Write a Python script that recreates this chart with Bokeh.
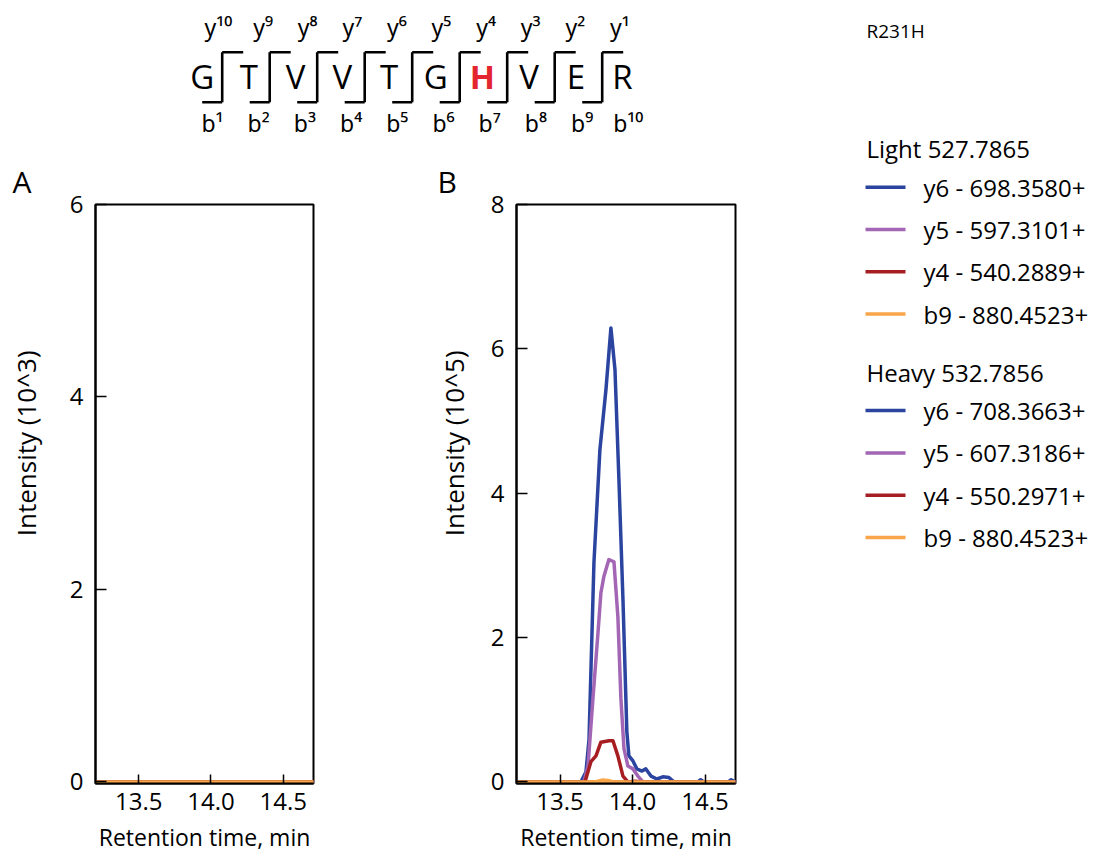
from bokeh.plotting import figure
from bokeh.models import Range1d, FixedTicker, PrintfTickFormatter, Title
from bokeh.layouts import column, row
from bokeh.embed import file_html
from bokeh.resources import INLINE
from bokeh.core.properties import value

FONT = "Open Sans"
SUPFONT = "Noto Sans"

# ---------------- data ----------------
residues = ["G", "T", "V", "V", "T", "G", "H", "V", "E", "R"]
mutated_index = 6
y_ions = ["y¹⁰", "y⁹", "y⁸", "y⁷", "y⁶", "y⁵", "y⁴", "y³", "y²", "y¹"]
b_ions = ["b¹", "b²", "b³", "b⁴", "b⁵", "b⁶", "b⁷", "b⁸", "b⁹", "b¹⁰"]
variant = "R231H"

light_title = "Light 527.7865"
heavy_title = "Heavy 532.7856"
light_labels = ["y6 - 698.3580+", "y5 - 597.3101+", "y4 - 540.2889+", "b9 - 880.4523+"]
heavy_labels = ["y6 - 708.3663+", "y5 - 607.3186+", "y4 - 550.2971+", "b9 - 880.4523+"]
series_colors = ["#2B44A0", "#A366B5", "#A61E22", "#F9A54A"]

time_range = (13.2, 14.71)
x_ticks = [13.5, 14.0, 14.5]
a_y_ticks = [0, 2, 4, 6]
b_y_ticks = [0, 2, 4, 6, 8]

# Panel A (Intensity x10^3): all transitions flat at zero
a_time = [13.2, 14.71]
a_light = [[0, 0], [0, 0], [0, 0], [0, 0]]
a_heavy = [[0, 0], [0, 0], [0, 0], [0, 0]]

# Panel B (Intensity x10^5)
b_light_y6_t = [13.2, 13.645, 13.679, 13.700, 13.734, 13.775, 13.817, 13.851, 13.879, 13.906,
                13.934, 13.961, 13.975, 14.003, 14.030, 14.065, 14.092, 14.127, 14.168, 14.209,
                14.251, 14.285, 14.45, 14.47, 14.49, 14.66, 14.68, 14.71]
b_light_y6_v = [0, 0, 0.14, 0.59, 3.04, 4.6, 5.44, 6.29, 5.71, 4.2,
                2.53, 0.69, 0.36, 0.29, 0.18, 0.15, 0.18, 0.08, 0.04, 0.07,
                0.06, 0, 0, 0.03, 0, 0, 0.03, 0]
b_light_y5_t = [13.2, 13.665, 13.693, 13.727, 13.762, 13.782, 13.803, 13.837, 13.872, 13.899,
                13.920, 13.941, 13.968, 14.003, 14.037, 14.072, 14.71]
b_light_y5_v = [0, 0, 0.22, 1.15, 2.07, 2.62, 2.85, 3.08, 3.05, 2.29,
                1.15, 0.46, 0.22, 0.18, 0.08, 0, 0]
b_light_y4_t = [13.2, 13.672, 13.713, 13.748, 13.782, 13.837, 13.865, 13.899, 13.934, 13.968,
                14.02, 14.06, 14.71]
b_light_y4_v = [0, 0, 0.28, 0.36, 0.55, 0.57, 0.57, 0.36, 0.08, 0, 0.01, 0, 0]
b_light_b9_t = [13.2, 13.74, 13.79, 13.83, 13.87, 14.71]
b_light_b9_v = [0, 0, 0.025, 0.02, 0, 0]
b_heavy_t = [13.2, 14.71]
b_heavy_v = [[0, 0], [0, 0], [0, 0], [0, 0]]

HEADER_H = 150
NBSP = "\u00a0"


# ---------------- panels ----------------
def make_panel(letter, letter_offset, ylabel, y_end, y_ticks, heavy, light, left, fw, right, lab_standoff):
    p = figure(frame_width=fw, frame_height=579,
               min_border_left=left, min_border_right=right,
               min_border_top=204 - HEADER_H, min_border_bottom=72,
               x_range=Range1d(*time_range),
               y_range=Range1d(-y_end * 0.0028, y_end),
               output_backend="svg", toolbar_location=None)
    p.frame_align = False
    p.grid.visible = False
    p.outline_line_color = "black"
    p.outline_line_width = 2
    p.background_fill_color = "white"
    p.border_fill_color = "white"

    p.title = Title(text=letter, align="left", offset=letter_offset,
                    text_font=FONT, text_font_size="30px", text_font_style="normal",
                    text_color="black", standoff=6)

    xa = p.xaxis[0]
    xa.ticker = FixedTicker(ticks=x_ticks)
    xa.formatter = PrintfTickFormatter(format="%.1f")
    xa.major_tick_in = 9
    xa.major_tick_out = 0
    xa.minor_tick_line_color = None
    xa.major_tick_line_width = 1.5
    xa.major_tick_line_color = "black"
    xa.axis_line_width = 2
    xa.major_label_text_font = FONT
    xa.major_label_text_font_size = "24px"
    xa.major_label_text_color = "black"
    xa.major_label_standoff = 9
    xa.axis_label = "Retention time, min"
    xa.axis_label_text_font = FONT
    xa.axis_label_text_font_size = "23px"
    xa.axis_label_text_font_style = "normal"
    xa.axis_label_text_color = "black"
    xa.axis_label_standoff = 8

    ya = p.yaxis[0]
    ya.ticker = FixedTicker(ticks=y_ticks)
    ya.major_tick_in = 11
    ya.major_tick_out = 0
    ya.minor_tick_line_color = None
    ya.major_tick_line_width = 1.5
    ya.major_tick_line_color = "black"
    ya.axis_line_width = 2
    ya.major_label_text_font = FONT
    ya.major_label_text_font_size = "24px"
    ya.major_label_text_color = "black"
    ya.major_label_standoff = 12
    ya.axis_label = NBSP * 15 + ylabel
    ya.axis_label_text_font = FONT
    ya.axis_label_text_font_size = "26px"
    ya.axis_label_text_font_style = "normal"
    ya.axis_label_text_color = "black"
    ya.axis_label_standoff = lab_standoff

    for (t, v), c in zip(heavy, series_colors):
        p.line(t, v, line_color=c, line_width=3.5, line_join="round")
    for (t, v), c in zip(light, series_colors):
        p.line(t, v, line_color=c, line_width=3.5, line_join="round")
    return p


pa = make_panel("A", -83, "Intensity (10^3)", 6, a_y_ticks,
                [(a_time, v) for v in a_heavy],
                [(a_time, v) for v in a_light],
                95, 218, 107, 23)

pb = make_panel("B", -79, "Intensity (10^5)", 8, b_y_ticks,
                [(b_heavy_t, v) for v in b_heavy_v],
                [(b_light_y6_t, b_light_y6_v), (b_light_y5_t, b_light_y5_v),
                 (b_light_y4_t, b_light_y4_v), (b_light_b9_t, b_light_b9_v)],
                96, 219, 115, 16)

# ---------------- header (peptide map) ----------------
HEADER_W = 850
hd = figure(width=HEADER_W, height=HEADER_H, x_range=Range1d(0, HEADER_W),
            y_range=Range1d(HEADER_H, 0),
            min_border=0, output_backend="svg", toolbar_location=None)
hd.frame_align = False
hd.axis.visible = False
hd.grid.visible = False
hd.outline_line_color = None

res_x = [201.7 + 46.7 * i for i in range(len(residues))]
normal_x = [x for i, x in enumerate(res_x) if i != mutated_index]
normal_r = [r for i, r in enumerate(residues) if i != mutated_index]
hd.text(x=normal_x, y=[75.5] * len(normal_x), text=normal_r,
        text_font=value(FONT), text_font_size=value("33px"),
        text_align="center", text_baseline="middle", text_color="black")
hd.text(x=[res_x[mutated_index]], y=[75.5], text=[residues[mutated_index]],
        text_font=value(FONT), text_font_size=value("33px"), text_font_style="bold",
        text_align="center", text_baseline="middle", text_color="#E3262F")

cut_x = [221.7 + 47.5 * i for i in range(len(residues) - 1)]
hd.segment(x0=[c - 20 for c in cut_x], y0=[101.7] * len(cut_x),
           x1=cut_x, y1=[101.7] * len(cut_x), line_color="black", line_width=2.6)
hd.segment(x0=cut_x, y0=[101.7] * len(cut_x), x1=cut_x, y1=[51.7] * len(cut_x),
           line_color="black", line_width=2.6)
hd.segment(x0=cut_x, y0=[51.7] * len(cut_x), x1=[c + 21 for c in cut_x],
           y1=[51.7] * len(cut_x), line_color="black", line_width=2.6)

hd.text(x=[218 + 44.6 * i for i in range(len(y_ions))], y=[26] * len(y_ions), text=y_ions,
        text_font=value(SUPFONT), text_font_size=value("23px"),
        text_align="center", text_baseline="middle", text_color="black")
hd.text(x=[212 + 46.2 * i for i in range(len(b_ions))], y=[122] * len(b_ions), text=b_ions,
        text_font=value(SUPFONT), text_font_size=value("23px"),
        text_align="center", text_baseline="middle", text_color="black")

# ---------------- legend column (full height) ----------------
lg = figure(width=1096 - HEADER_W, height=858, x_range=Range1d(HEADER_W, 1096),
            y_range=Range1d(858, 0),
            min_border=0, output_backend="svg", toolbar_location=None)
lg.frame_align = False
lg.axis.visible = False
lg.grid.visible = False
lg.outline_line_color = None

lg.text(x=[866], y=[30], text=[variant], text_font=value(FONT), text_font_size=value("19px"),
        text_align="left", text_baseline="middle", text_color="black")

groups = [(light_title, light_labels, 148.3), (heavy_title, heavy_labels, 371.7)]
for title, labels, ty in groups:
    lg.text(x=[866], y=[ty], text=[title], text_font=value(FONT), text_font_size=value("24px"),
            text_align="left", text_baseline="middle", text_color="black")
    ys = [ty + 38.4 + 42.3 * k for k in range(len(labels))]
    lg.segment(x0=[865] * len(ys), y0=ys, x1=[905] * len(ys), y1=ys,
               line_color=series_colors, line_width=3.5)
    lg.text(x=[923] * len(ys), y=ys, text=labels, text_font=value(FONT),
            text_font_size=value("24px"), text_align="left", text_baseline="middle",
            text_color="black")

left_block = column(hd, row(pa, pb, spacing=0), spacing=0)
layout = row(left_block, lg, spacing=0)
open("out.html", "w").write(file_html(layout, INLINE))
